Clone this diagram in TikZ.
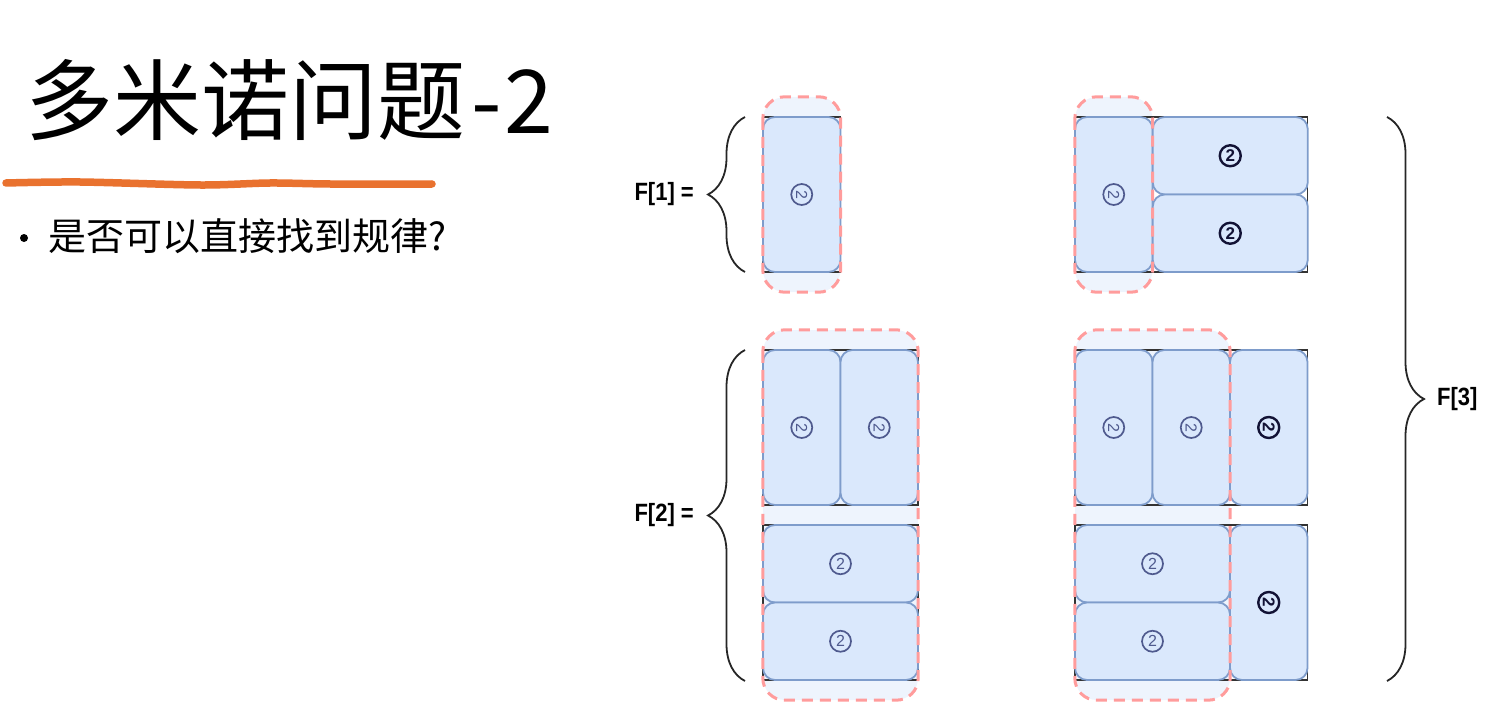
\documentclass[tikz,border=0pt]{standalone}
\usepackage{fontspec}
\setmainfont{Noto Sans CJK SC}
\newfontfamily\lblfont{Liberation Sans}
\usepackage{tikz}
\usetikzlibrary{positioning, decorations.pathreplacing}
\definecolor{domfill}{HTML}{DAE8FC}
\definecolor{domline}{HTML}{7E9CCB}
\definecolor{hlfill}{HTML}{EEF4FD}
\definecolor{hldash}{HTML}{FF9C9C}
\definecolor{numcol}{HTML}{4F5A8E}
\definecolor{newcol}{HTML}{121235}
\definecolor{ulcol}{HTML}{E9722F}

\begin{document}
\begin{tikzpicture}[x=1pt, y=-1pt,
    hl/.style={rectangle, rounded corners=22pt, fill=hlfill, inner sep=0},
    hlline/.style={draw=hldash, line width=3pt, dash pattern=on 11pt off 7pt, rounded corners=22pt},
    blk/.style={rectangle, draw=black!80, line width=1.6pt, inner sep=0},
    hdom/.style={rectangle, rounded corners=12pt, fill=domfill, draw=domline, line width=1.8pt, minimum width=155pt, minimum height=77.5pt, inner sep=0},
    vdom/.style={hdom, minimum width=77.5pt, minimum height=155pt},
    num/.style={circle, draw=numcol, text=numcol, line width=1.7pt, minimum size=21pt, inner sep=0, font=\lblfont\fontsize{16pt}{16pt}\selectfont},
    newnum/.style={num, draw=newcol, text=newcol, line width=2.4pt, font=\lblfont\bfseries\fontsize{17pt}{17pt}\selectfont},
    brc/.style={decorate, decoration={brace, amplitude=37pt}, line width=1.8pt, draw=black!85},
    lbl/.style={inner sep=0, font=\lblfont\bfseries\fontsize{25pt}{25pt}\selectfont, xscale=0.88}]
    \useasboundingbox (0,0) rectangle (1490,722);

    % title and question
    \node(title)[anchor=base west, inner sep=0, font=\fontsize{88pt}{92pt}\selectfont] at (25,134) {多米诺问题\hspace{6pt}-\hspace{3pt}2};
    \draw[ulcol, line width=7.5pt, line cap=round] plot[smooth] coordinates {(6,183) (80,182) (200,185) (270,183) (330,184) (432,184)};
    \node(dot)[circle, fill=black, inner sep=0, minimum size=8pt] at (24,238) {};
    \node(q)[anchor=base west, inner sep=0, font=\fontsize{38pt}{40pt}\selectfont] at (48,250) {是否可以直接找到规律?};

    % highlighted parts
    \node(h1)[hl, minimum width=77.5pt, minimum height=195pt] at (801.75,194.5) {};
    \node(h2)[hl, minimum width=77.5pt, minimum height=195pt] at (1113.75,194.5) {};
    \node(h3)[hl, minimum width=155pt, minimum height=370pt] at (840.5,515) {};
    \node(h4)[hl, minimum width=155pt, minimum height=370pt] at (1152.5,515) {};

    % boards
    \node(blkA)[blk, minimum width=77.5pt, minimum height=155pt] at (801.75,194.5) {};
    \node(blkB)[blk, minimum width=232.5pt, minimum height=155pt] at (1191.25,194.5) {};
    \node(blkC1)[blk, minimum width=155pt, minimum height=155pt] at (840.5,427.5) {};
    \node(blkC2)[blk, minimum width=155pt, minimum height=155pt] at (840.5,602.5) {};
    \node(blkD1)[blk, minimum width=232.5pt, minimum height=155pt] at (1191.25,427.5) {};
    \node(blkD2)[blk, minimum width=232.5pt, minimum height=155pt] at (1191.25,602.5) {};

    % dominoes
    \node(d1)[vdom] at (801.75,194.5) {};
    \node(d2)[vdom] at (1113.75,194.5) {};
    \node(d3)[hdom] at (1230.25,155.75) {};
    \node(d4)[hdom] at (1230.25,233.25) {};
    \node(d5)[vdom] at (801.75,427.5) {};
    \node(d6)[vdom] at (879.25,427.5) {};
    \node(d7)[hdom] at (840.5,563.75) {};
    \node(d8)[hdom] at (840.5,641.25) {};
    \node(d9)[vdom] at (1113.75,427.5) {};
    \node(d10)[vdom] at (1191.25,427.5) {};
    \node(d11)[vdom] at (1268.75,427.5) {};
    \node(d12)[hdom] at (1152.5,563.75) {};
    \node(d13)[hdom] at (1152.5,641.25) {};
    \node(d14)[vdom] at (1268.75,602.5) {};

    \node(n1)[num, rotate=-90] at (d1) {2};
    \node(n2)[num, rotate=-90] at (d2) {2};
    \node(n3)[newnum] at (d3) {2};
    \node(n4)[newnum] at (d4) {2};
    \node(n5)[num, rotate=-90] at (d5) {2};
    \node(n6)[num, rotate=-90] at (d6) {2};
    \node(n7)[num] at (d7) {2};
    \node(n8)[num] at (d8) {2};
    \node(n9)[num, rotate=-90] at (d9) {2};
    \node(n10)[num, rotate=-90] at (d10) {2};
    \node(n11)[newnum, rotate=-90] at (d11) {2};
    \node(n12)[num] at (d12) {2};
    \node(n13)[num] at (d13) {2};
    \node(n14)[newnum, rotate=-90] at (d14) {2};

    \draw[hlline] (h1.north west) rectangle (h1.south east);
    \draw[hlline] (h2.north west) rectangle (h2.south east);
    \draw[hlline] (h3.north west) rectangle (h3.south east);
    \draw[hlline] (h4.north west) rectangle (h4.south east);

    % braces
    \coordinate(b1top) at (745,117);
    \coordinate(b1bot) at (745,272);
    \coordinate(t1) at (708,194.5);
    \coordinate(b2top) at (745,350);
    \coordinate(b2bot) at (745,681);
    \coordinate(t2) at (708,515.5);
    \coordinate(b3top) at (1387,117);
    \coordinate(b3bot) at (1387,681);
    \coordinate(t3) at (1424,399);
    \draw[brc] (b1bot) -- (b1top);
    \draw[brc] (b2bot) -- (b2top);
    \draw[brc] (b3top) -- (b3bot);
    \node(L1)[lbl, left=14pt of t1] {F[1] =};
    \node(L2)[lbl, left=14pt of t2] {F[2] =};
    \node(L3)[lbl, right=13pt of t3] {F[3]};
\end{tikzpicture}
\end{document}
